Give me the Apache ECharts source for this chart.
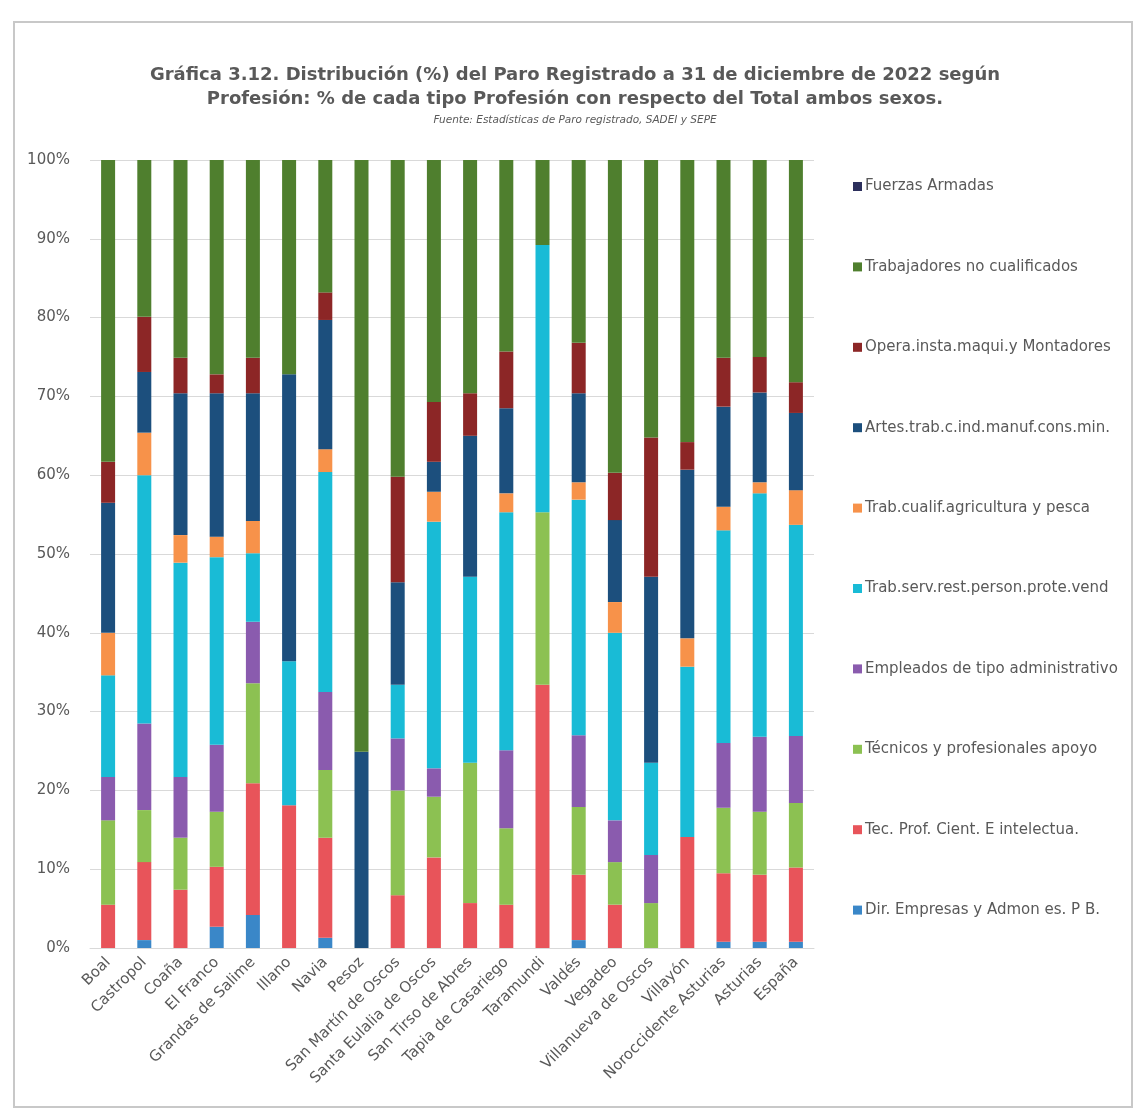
<!DOCTYPE html>
<html><head><meta charset="utf-8">
<script src="https://cdn.jsdelivr.net/npm/echarts@6/dist/echarts.min.js"></script>
<style>html,body{margin:0;padding:0;background:#fff}#c{width:1138px;height:1117px}</style>
</head><body><div id="c"></div>
<script>
const categories = ["Boal","Castropol","Coaña","El Franco","Grandas de Salime","Illano","Navia","Pesoz","San Martín de Oscos","Santa Eulalia de Oscos","San Tirso de Abres","Tapia de Casariego","Taramundi","Valdés","Vegadeo","Villanueva de Oscos","Villayón","Noroccidente Asturias","Asturias","España"];
const dirEmpresas   = [0,1.0,0,2.7,4.2,0,1.3,0,0,0,0,0,0,1.0,0,0,0,0.8,0.8,0.8];
const tecProfCient  = [5.5,9.9,7.4,7.6,16.7,18.1,12.7,0,6.7,11.5,5.7,5.5,33.4,8.3,5.5,0,14.1,8.7,8.5,9.4];
const tecnicosApoyo = [10.7,6.6,6.6,7.0,12.7,0,8.6,0,13.3,7.7,17.8,9.7,21.9,8.6,5.4,5.7,0,8.3,8.0,8.2];
const empleadosAdm  = [5.5,11.0,7.7,8.5,7.8,0,9.9,0,6.6,3.6,0,9.9,0,9.1,5.3,6.1,0,8.2,9.5,8.5];
const trabServ      = [12.9,31.5,27.2,23.8,8.7,18.3,27.9,0,6.8,31.3,23.6,30.2,33.9,29.9,23.8,11.7,21.6,27.0,30.9,26.8];
const trabAgri      = [5.4,5.4,3.5,2.6,4.1,0,2.9,0,0,3.8,0,2.4,0,2.2,3.9,0,3.6,3.0,1.4,4.4];
const artesTrab     = [16.5,7.7,18.0,18.2,16.2,36.4,16.4,24.9,13.0,3.8,17.9,10.8,0,11.3,10.4,23.6,21.4,12.7,11.4,9.8];
const operaMont     = [5.2,7.0,4.5,2.4,4.5,0,3.5,0,13.4,7.6,5.4,7.2,0,6.4,6.0,17.7,3.5,6.2,4.5,3.9];
const noCualif      = [38.3,19.9,25.1,27.2,25.1,27.2,16.8,75.1,40.2,30.7,29.6,24.3,10.8,23.2,39.7,35.2,35.8,25.1,25.0,28.2];
const fuerzasArm    = [0,0,0,0,0,0,0,0,0,0,0,0,0,0,0,0,0,0,0,0];
const yTicks = [0,10,20,30,40,50,60,70,80,90,100];

const seriesDefs = [
  ["Dir. Empresas y Admon es. P B.", dirEmpresas, "#3A87C8"],
  ["Tec. Prof. Cient. E intelectua.", tecProfCient, "#E8545A"],
  ["Técnicos y profesionales apoyo", tecnicosApoyo, "#8CC152"],
  ["Empleados de tipo administrativo", empleadosAdm, "#8A5BAE"],
  ["Trab.serv.rest.person.prote.vend", trabServ, "#19BBD6"],
  ["Trab.cualif.agricultura y pesca", trabAgri, "#F7924A"],
  ["Artes.trab.c.ind.manuf.cons.min.", artesTrab, "#1C4F7D"],
  ["Opera.insta.maqui.y Montadores", operaMont, "#8C2626"],
  ["Trabajadores no cualificados", noCualif, "#4F7F2E"],
  ["Fuerzas Armadas", fuerzasArm, "#2C2F5C"]
];

const chart = echarts.init(document.getElementById('c'));
const font = "'DejaVu Sans', 'Liberation Sans', sans-serif";
chart.setOption({
  backgroundColor: '#fff',
  animation: false,
  textStyle: {fontFamily: font},
  title: [{
    text: "Gráfica 3.12. Distribución (%) del Paro Registrado a 31 de diciembre de 2022 según\nProfesión: % de cada tipo Profesión con respecto del Total ambos sexos.",
    left: 570, top: 58, textAlign: 'center',
    textStyle: {fontSize: 18, fontWeight: 'bold', color: '#595959', lineHeight: 24, fontFamily: font}
  },{
    text: "Fuente: Estadísticas de Paro registrado, SADEI y SEPE",
    left: 570, top: 110, textAlign: 'center',
    textStyle: {fontSize: 10.5, fontStyle: 'italic', fontWeight: 'normal', color: '#595959', fontFamily: font}
  }],
  graphic: [{
    type: 'rect', shape: {x: 14, y: 22, width: 1118, height: 1085}, silent: true,
    style: {fill: 'none', stroke: '#c8c8c8', lineWidth: 2}
  }],
  legend: {
    orient: 'vertical', left: 848, top: 174, itemGap: 65.4,
    itemWidth: 9, itemHeight: 9, icon: 'rect',
    data: seriesDefs.map(s => s[0]).reverse(),
    textStyle: {fontSize: 15, color: '#595959', fontFamily: font, padding: [0,0,0,-2]}
  },
  grid: {left: 90, right: 324, top: 160, bottom: 169, containLabel: false},
  xAxis: {
    type: 'category', data: categories,
    axisLine: {lineStyle: {color: '#d9d9d9'}},
    axisTick: {show: false},
    axisLabel: {rotate: 45, interval: 0, fontSize: 15, color: '#595959', margin: 12}
  },
  yAxis: {
    type: 'value', min: 0, max: 100, interval: 10,
    axisLine: {show: false}, axisTick: {show: false},
    splitLine: {lineStyle: {color: '#d9d9d9'}},
    axisLabel: {formatter: v => yTicks.includes(v) ? v + '%' : '', fontSize: 15, color: '#595959', margin: 20}
  },
  series: seriesDefs.map(s => ({
    name: s[0], type: 'bar', stack: 'total', data: s[1],
    barWidth: 14, itemStyle: {color: s[2]}
  }))
});
</script></body></html>
